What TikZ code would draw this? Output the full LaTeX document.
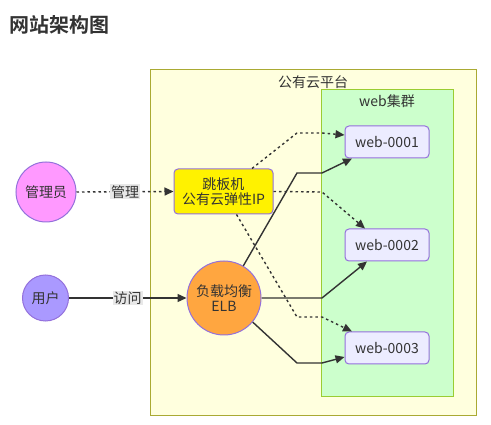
\documentclass[tikz,border=0pt]{standalone}
\usepackage{fontspec}
\setmainfont{Noto Sans CJK SC}[BoldFont=* Bold]
\usetikzlibrary{arrows.meta}
\definecolor{txt}{HTML}{333333}
\definecolor{outerfill}{HTML}{FFFFDE}
\definecolor{outerdraw}{HTML}{AAAA33}
\definecolor{innerfill}{HTML}{CCFFCC}
\definecolor{innerdraw}{HTML}{9ACD32}
\definecolor{webfill}{HTML}{ECECFF}
\definecolor{purpledraw}{HTML}{9370DB}
\definecolor{pinkfill}{HTML}{FF99FF}
\definecolor{userfill}{HTML}{AA99FF}
\definecolor{orangefill}{HTML}{FFA640}
\definecolor{labelbg}{HTML}{E8E8E8}
\begin{document}
\begin{tikzpicture}[x=1pt,y=-1pt,
  every node/.style={text=txt, font=\fontsize{14}{16}\selectfont, align=center},
  webbox/.style={draw=purpledraw, fill=webfill, line width=1pt, rounded corners=4pt, minimum width=84pt, minimum height=32pt, inner sep=0pt},
  circ/.style={circle, draw=purpledraw, line width=1pt, inner sep=0pt},
  conn/.style={draw=txt, line width=1.4pt, -{Triangle[length=9pt,width=8pt]}},
  dotconn/.style={conn, dash pattern=on 2.5pt off 3pt},
  elabel/.style={fill=labelbg, inner sep=1pt}]
\useasboundingbox (0,0) rectangle (491,425);
\node[anchor=west, font=\fontsize{20}{22}\selectfont\bfseries] (title) at (6,25) {网站架构图};
% clusters
\draw[fill=outerfill, draw=outerdraw, line width=1pt] (150,70) rectangle (476,416);
\node (cloudlbl) at (313,82) {公有云平台};
\draw[fill=innerfill, draw=innerdraw, line width=1pt] (321,90) rectangle (453,397);
\node (weblbl) at (387,101) {web集群};
% nodes
\node[webbox] (w1) at (387,142) {web-0001};
\node[webbox] (w2) at (387,245) {web-0002};
\node[webbox] (w3) at (387,348) {web-0003};
\node[draw=purpledraw, fill=yellow, line width=1pt, rounded corners=4pt, minimum width=99pt, minimum height=45pt, inner sep=0pt, font=\fontsize{14}{15}\selectfont] (jb) at (223.5,191.5) {跳板机\\公有云弹性IP};
\node[circ, fill=pinkfill, minimum size=60pt] (admin) at (46,192) {管理员};
\node[circ, fill=userfill, minimum size=46pt] (user) at (45.5,298) {用户};
\node[circ, fill=orangefill, minimum size=74pt, font=\fontsize{14}{15}\selectfont] (elb) at (224,298) {负载均衡\\ELB};
% bend points
\coordinate (d1a) at (297,133); \coordinate (d1b) at (322,133);
\coordinate (d2a) at (322,192);
\coordinate (d3a) at (297,317); \coordinate (d3b) at (322,317);
\coordinate (s1a) at (297,173); \coordinate (s1b) at (322,173);
\coordinate (s2a) at (322,298);
\coordinate (s3a) at (297,363); \coordinate (s3b) at (322,363);
% connectors
\draw[dotconn] (admin.east) -- node[elabel] {管理} (jb.west);
\draw[conn] (user.east) -- node[elabel] {访问} (elb.west);
\draw[dotconn] ([xshift=28.5pt]jb.north) -- (d1a) -- (d1b) -- ([yshift=7pt]w1.west);
\draw[dotconn] (jb.east) -- (d2a) -- ([xshift=-22pt]w2.north);
\draw[dotconn] ([xshift=13pt]jb.south) -- (d3a) -- (d3b) -- ([xshift=-35pt]w3.north);
\draw[conn] (elb.59) -- (s1a) -- (s1b) -- ([xshift=-35pt]w1.south);
\draw[conn] (elb.east) -- (s2a) -- ([xshift=-20pt]w2.south);
\draw[conn] (elb.-40) -- (s3a) -- (s3b) -- ([yshift=-9pt]w3.west);
\end{tikzpicture}
\end{document}
